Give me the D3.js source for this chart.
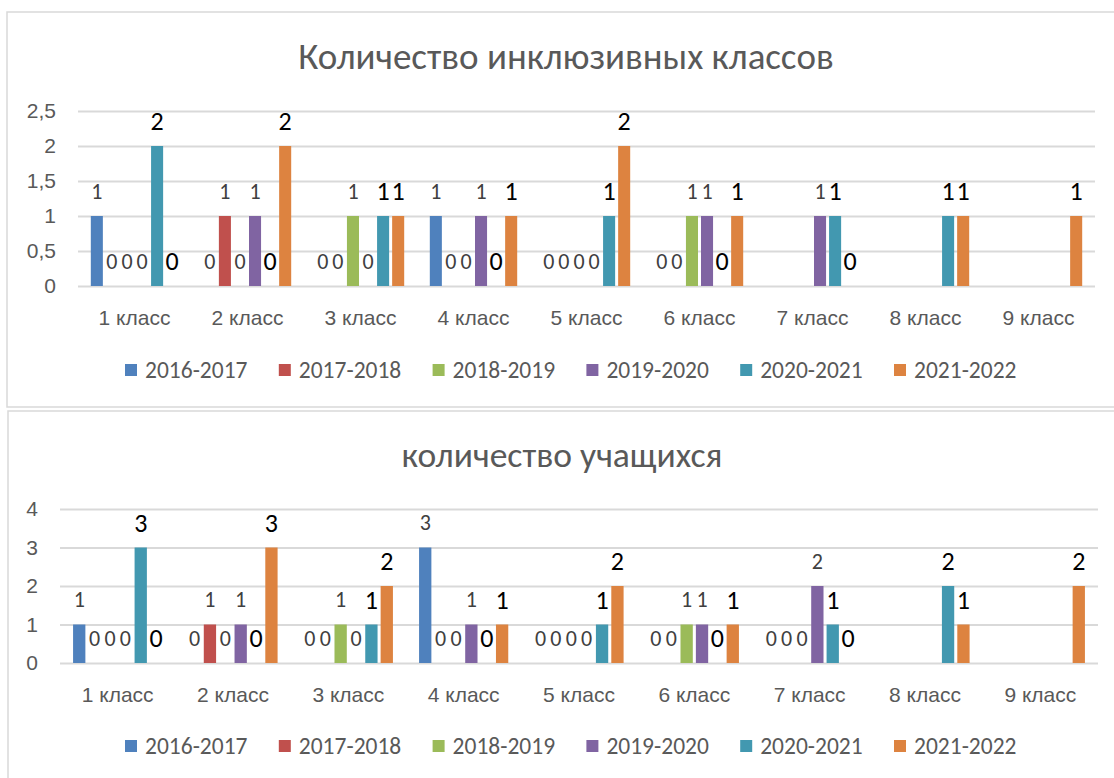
<!DOCTYPE html>
<html><head><meta charset="utf-8">
<script src="https://cdn.jsdelivr.net/npm/d3@7/dist/d3.min.js"></script>
<style>
html,body{margin:0;padding:0;background:#fff;}
svg{display:block;font-family:Carlito,Lato,"Open Sans",sans-serif;}
</style></head>
<body><svg id="c" width="1114" height="778"></svg>
<script>
const categories = ["1 класс","2 класс","3 класс","4 класс","5 класс","6 класс","7 класс","8 класс","9 класс"];
const seriesNames = ["2016-2017","2017-2018","2018-2019","2019-2020","2020-2021","2021-2022"];
const colors = ["#4F81BD","#C0504D","#9BBB59","#8064A2","#4298B0","#DD8340"];

// Chart 1: Количество инклюзивных классов
const title1 = "Количество инклюзивных классов";
const c1_2016 = [1,0,0,1,0,0,null,null,null];
const c1_2017 = [0,1,0,0,0,0,null,null,null];
const c1_2018 = [0,0,1,0,0,1,null,null,null];
const c1_2019 = [0,1,0,1,0,1,1,null,null];
const c1_2020 = [2,0,1,0,1,0,1,1,null];
const c1_2021 = [0,2,1,1,2,1,0,1,1];
const ticks1 = [0,0.5,1,1.5,2,2.5];

// Chart 2: количество учащихся
const title2 = "количество учащихся";
const c2_2016 = [1,0,0,3,0,0,0,null,null];
const c2_2017 = [0,1,0,0,0,0,0,null,null];
const c2_2018 = [0,0,1,0,0,1,0,null,null];
const c2_2019 = [0,1,0,1,0,1,2,null,null];
const c2_2020 = [3,0,1,0,1,0,1,2,null];
const c2_2021 = [0,3,2,1,2,1,0,1,2];
const ticks2 = [0,1,2,3,4];

const svg = d3.select("#c");
const fmt = d => String(d).replace(".", ",");

function drawChart(o){
  const g = svg.append("g");
  g.append("rect").attr("x",o.frame[0]).attr("y",o.frame[1]).attr("width",o.frame[2]).attr("height",o.frame[3])
    .attr("fill","#fff").attr("stroke","#d9d9d9").attr("stroke-width",1.5);
  g.append("text").attr("x",o.titleX).attr("y",o.titleY).attr("text-anchor","middle")
    .attr("font-size",o.titleSize).attr("fill","#595959").text(o.title);

  const x0 = d3.scaleBand().domain(categories).range([o.left,o.right]).paddingInner(0.2).paddingOuter(0.1);
  const x1 = d3.scaleBand().domain(seriesNames).range([0,x0.bandwidth()]).paddingInner(0.2).paddingOuter(0.1);
  const y = d3.scaleLinear().domain([0,o.yMax]).range([o.bottom,o.top]);

  const yAxis = d3.axisLeft(y).tickValues(o.ticks).tickSize(-(o.right-o.left)).tickFormat(fmt).tickPadding(22);
  const ya = g.append("g").attr("transform",`translate(${o.left},0)`).call(yAxis);
  ya.select(".domain").remove();
  ya.selectAll(".tick line").attr("stroke","#d9d9d9").attr("stroke-width",2);
  ya.selectAll(".tick text").attr("font-size",21).attr("fill","#595959").attr("font-family",null);

  const xAxis = d3.axisBottom(x0).tickSize(0).tickPadding(24);
  const xa = g.append("g").attr("transform",`translate(0,${o.bottom})`).call(xAxis);
  xa.select(".domain").remove();
  xa.selectAll(".tick text").attr("font-size",21).attr("fill","#595959").attr("font-family",null);

  const data = [];
  o.series.forEach((arr,si)=>arr.forEach((v,ci)=>{ if(v!==null) data.push({cat:categories[ci],s:seriesNames[si],si,v}); }));

  g.selectAll("rect.bar").data(data.filter(d=>d.v>0)).join("rect").attr("class","bar")
    .attr("x",d=>x0(d.cat)+x1(d.s)).attr("width",x1.bandwidth())
    .attr("y",d=>y(d.v)).attr("height",d=>y(0)-y(d.v)).attr("fill",d=>colors[d.si]);

  g.selectAll("text.lbl").data(data).join("text").attr("class","lbl")
    .attr("x",d=>x0(d.cat)+x1(d.s)+x1.bandwidth()/2).attr("y",d=>y(d.v)-25).attr("dy","0.36em")
    .attr("text-anchor","middle")
    .attr("font-size",d=>d.si>=4?26:22)
    .attr("fill",d=>d.si>=4?"#000":"#404040")
    .text(d=>d.v);

  const lg = g.append("g");
  seriesNames.forEach((n,i)=>{
    const lx = o.legendX + i*153.8;
    lg.append("rect").attr("x",lx).attr("y",o.legendY-6).attr("width",12).attr("height",12).attr("fill",colors[i]);
    lg.append("text").attr("x",lx+20).attr("y",o.legendY).attr("dy","0.35em").attr("font-size",23.5).attr("fill","#595959").text(n);
  });
}

drawChart({title:title1,titleX:566,titleY:69,titleSize:37,frame:[7,12,1130,395],
  left:78,right:1095,bottom:286,top:111,yMax:2.5,ticks:ticks1,
  series:[c1_2016,c1_2017,c1_2018,c1_2019,c1_2020,c1_2021],legendX:125,legendY:370});
drawChart({title:title2,titleX:562,titleY:467,titleSize:35.6,frame:[8,411,1130,400],
  left:60,right:1098,bottom:663,top:509,yMax:4,ticks:ticks2,
  series:[c2_2016,c2_2017,c2_2018,c2_2019,c2_2020,c2_2021],legendX:125,legendY:746});
</script></body></html>
